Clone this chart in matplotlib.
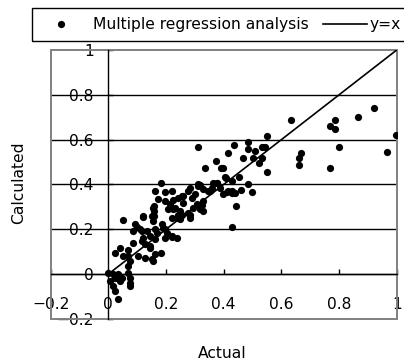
import matplotlib
matplotlib.use("Agg")
import matplotlib.pyplot as plt
from matplotlib.patches import Rectangle
from matplotlib.lines import Line2D

plt.rcParams['font.family'] = ['DejaVu Sans']

# ---- data ----
actual = [
    0.632, 0.769, 0.787, 0.786, 0.867, 0.922, 0.996, 0.799, 0.965, 0.662, 0.669, 0.662, 0.769,
    0.551, 0.551, 0.485, 0.485, 0.533, 0.544, 0.510, 0.435, 0.416, 0.466, 0.503, 0.533, 0.521,
    0.373, 0.336, 0.392, 0.405, 0.453, 0.429, 0.362, 0.484, 0.460, 0.497, 0.411, 0.429, 0.310,
    0.442, 0.429, 0.329, 0.324,
    0.182, 0.399, 0.310, 0.283, 0.329, 0.353, 0.387, 0.416, 0.439, 0.162, 0.197, 0.220, 0.173,
    0.197, 0.225, 0.260, 0.260, 0.289, 0.295, 0.225, 0.208, 0.249, 0.283, 0.156, 0.121, 0.150,
    0.156, 0.185, 0.220, 0.237, 0.254, 0.110, 0.133, 0.162, 0.197, 0.121, 0.145, 0.162, 0.197,
    0.220, 0.237, 0.127, 0.145,
    0.318, 0.376, 0.399, 0.408, 0.376, 0.358, 0.347, 0.312, 0.277, 0.254, 0.243, 0.214, 0.231,
    0.243, 0.277, 0.300, 0.306, 0.329, 0.318, 0.283, 0.249, 0.428,
    0.041, 0.023, 0.069, 0.052, 0.069, 0.075, 0.069, 0.104, 0.000, 0.017, 0.035, 0.023, 0.046,
    0.006, 0.041, 0.075, 0.075, 0.075, 0.017, 0.023, 0.035, 0.070, 0.145, 0.162, 0.150, 0.127,
    0.182, 0.154,
    0.087, 0.098, 0.116, 0.087, 0.116, 0.168, 0.191, 0.202, 0.222, 0.052, 0.093, 0.121, 0.160,
    0.160, 0.160,
]
calculated = [
    0.686, 0.661, 0.686, 0.646, 0.701, 0.741, 0.622, 0.567, 0.543, 0.519, 0.542, 0.487, 0.472,
    0.615, 0.455, 0.591, 0.558, 0.567, 0.567, 0.551, 0.575, 0.542, 0.519, 0.519, 0.519, 0.496,
    0.503, 0.472, 0.472, 0.433, 0.433, 0.415, 0.408, 0.400, 0.377, 0.368, 0.368, 0.360, 0.567,
    0.305, 0.210, 0.281, 0.308,
    0.408, 0.472, 0.400, 0.386, 0.378, 0.371, 0.386, 0.371, 0.363, 0.371, 0.366, 0.371, 0.337,
    0.326, 0.333, 0.348, 0.319, 0.341, 0.296, 0.289, 0.289, 0.281, 0.266, 0.296, 0.259, 0.259,
    0.237, 0.222, 0.252, 0.252, 0.266, 0.200, 0.192, 0.200, 0.200, 0.162, 0.170, 0.155, 0.162,
    0.167, 0.162, 0.133, 0.125,
    0.397, 0.408, 0.356, 0.430, 0.408, 0.386, 0.371, 0.393, 0.371, 0.348, 0.341, 0.311, 0.296,
    0.266, 0.274, 0.356, 0.311, 0.326, 0.289, 0.252, 0.244, 0.371,
    0.118, 0.095, 0.110, 0.080, 0.080, 0.058, 0.036, 0.080, 0.006, 0.000, -0.001, -0.016, -0.016,
    -0.031, -0.031, -0.016, -0.038, -0.054, -0.054, -0.076, -0.113, 0.006, 0.118, 0.088, 0.066,
    0.073, 0.095, 0.058,
    0.192, 0.211, 0.192, 0.140, 0.147, 0.185, 0.207, 0.185, 0.170, 0.241, 0.222, 0.254, 0.280,
    0.260, 0.304,
]
identity = [0, 1]
ticks = [-0.2, 0, 0.2, 0.4, 0.6, 0.8, 1]
tick_labels = ['\u22120.2', '0', '0.2', '0.4', '0.6', '0.8', '1']
series_label = 'Multiple regression analysis'
line_label = 'y=x'
x_title = 'Actual'
y_title = 'Calculated'

W, H = 404, 363
fig = plt.figure(figsize=(W / 100, H / 100), dpi=100)
ax = fig.add_axes([50.6 / W, 1 - 319 / H, (396.7 - 50.6) / W, (319 - 50) / H])

FS = 11.2
ax.plot(actual, calculated, 'o', color='black', markersize=5.2, markeredgewidth=0, zorder=3)
ax.plot(identity, identity, '-', color='black', lw=1.2, zorder=2)

ax.set_xlim(-0.2, 1)
ax.set_ylim(-0.2, 1)
ax.set_xticks(ticks)
ax.set_xticklabels(tick_labels)
ax.set_yticks(ticks)
ax.set_yticklabels(tick_labels)

for s in ['top', 'right']:
    ax.spines[s].set_visible(False)
ax.spines['left'].set_position(('data', 0))
ax.spines['bottom'].set_position(('data', 0))
for s in ['left', 'bottom']:
    ax.spines[s].set_color('black')
    ax.spines[s].set_linewidth(1.0)

ax.tick_params(axis='x', direction='in', length=3.5, width=1.0, pad=16.5, labelsize=FS)
ax.tick_params(axis='y', direction='in', length=3.5, width=1.0, pad=10.5, labelsize=FS)

ax.yaxis.grid(True, color='black', lw=1.0)
gl = ax.yaxis.get_gridlines()
gl[0].set_visible(False)
gl[-1].set_visible(False)
ax.set_axisbelow(True)

ax.add_patch(Rectangle((0, 0), 1, 1, transform=ax.transAxes, fill=False,
                       edgecolor='#808080', lw=1.4, clip_on=False, zorder=1))

fig.text(222 / W, 1 - 353 / H, x_title, ha='center', va='center', fontsize=FS)
fig.text(18.5 / W, 1 - 183 / H, y_title, ha='center', va='center', rotation=90, fontsize=FS)

# legend box
fig.add_artist(Rectangle((32.3 / W, 1 - 40.7 / H), (420 - 32.3) / W, (40.7 - 8.3) / H,
                         transform=fig.transFigure, fill=False, edgecolor='black', lw=1.0))
fig.add_artist(Line2D([61 / W], [1 - 24.3 / H], marker='o', color='black',
                      markersize=5.2, markeredgewidth=0, transform=fig.transFigure))
fig.text(93 / W, 1 - 24.3 / H, series_label, ha='left', va='center', fontsize=FS)
fig.add_artist(Line2D([322.7 / W, 367.3 / W], [1 - 24.3 / H, 1 - 24.3 / H], color='black',
                      lw=1.2, transform=fig.transFigure))
fig.text(370 / W, 1 - 24.3 / H, line_label, ha='left', va='center', fontsize=FS)

fig.savefig('out.png', dpi=100)
